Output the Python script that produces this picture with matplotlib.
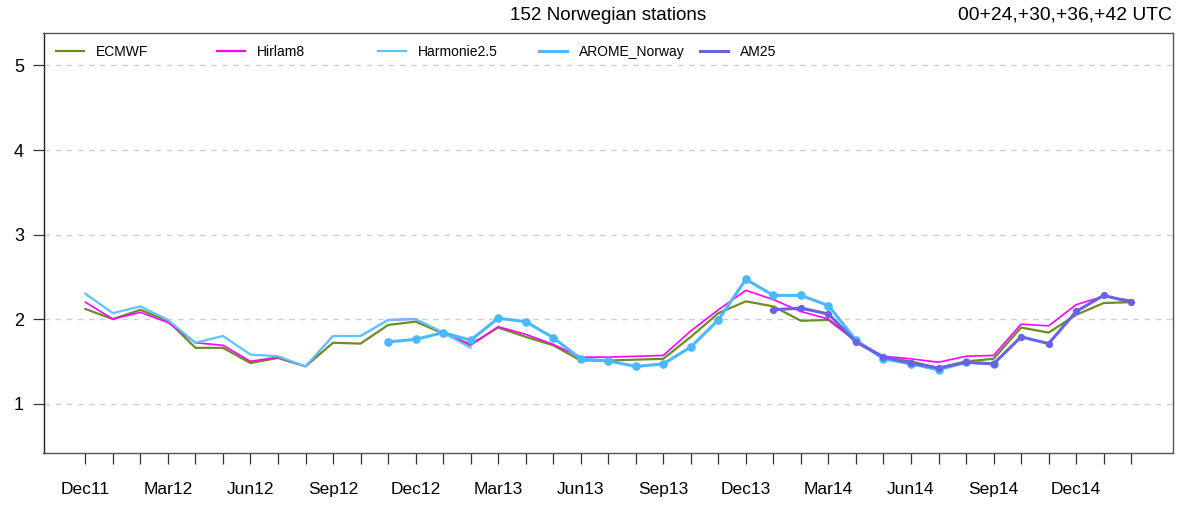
import numpy as np
import matplotlib
matplotlib.use("Agg")
import matplotlib.pyplot as plt
from matplotlib.lines import Line2D

plt.rcParams['font.family'] = ['Liberation Sans', 'DejaVu Sans']

months = ['Dec11', 'Jan12', 'Feb12', 'Mar12', 'Apr12', 'May12', 'Jun12', 'Jul12', 'Aug12',
          'Sep12', 'Oct12', 'Nov12', 'Dec12', 'Jan13', 'Feb13', 'Mar13', 'Apr13', 'May13',
          'Jun13', 'Jul13', 'Aug13', 'Sep13', 'Oct13', 'Nov13', 'Dec13', 'Jan14', 'Feb14',
          'Mar14', 'Apr14', 'May14', 'Jun14', 'Jul14', 'Aug14', 'Sep14', 'Oct14', 'Nov14',
          'Dec14', 'Jan15', 'Feb15']
tick_labels = ['Dec11', 'Mar12', 'Jun12', 'Sep12', 'Dec12', 'Mar13', 'Jun13', 'Sep13',
               'Dec13', 'Mar14', 'Jun14', 'Sep14', 'Dec14']

ecmwf = [2.12, 2.00, 2.11, 1.98, 1.66, 1.66, 1.48, 1.54, 1.44, 1.72, 1.71, 1.93, 1.97,
         1.83, 1.70, 1.90, 1.79, 1.69, 1.51, 1.51, 1.52, 1.53, 1.79, 2.07, 2.21, 2.15,
         1.98, 1.99, 1.74, 1.55, 1.50, 1.42, 1.50, 1.53, 1.90, 1.84, 2.05, 2.19, 2.20]
hirlam8 = [2.20, 2.00, 2.08, 1.96, 1.72, 1.69, 1.50, 1.55, 1.44, 1.80, 1.80, 1.99, 2.00,
           1.84, 1.69, 1.91, 1.82, 1.70, 1.55, 1.55, 1.56, 1.57, 1.86, 2.11, 2.34, 2.23,
           2.09, 2.00, 1.74, 1.56, 1.53, 1.49, 1.56, 1.57, 1.94, 1.92, 2.17, 2.27, 2.22]
harmonie_months = months[0:15]
harmonie = [2.30, 2.07, 2.15, 1.99, 1.72, 1.80, 1.58, 1.56, 1.44, 1.80, 1.80, 1.99, 2.00,
            1.84, 1.66]
arome_months = months[11:34]
arome = [1.73, 1.76, 1.84, 1.75, 2.01, 1.97, 1.78, 1.53, 1.505, 1.44, 1.47, 1.67, 1.99,
         2.47, 2.28, 2.28, 2.16, 1.75, 1.53, 1.47, 1.40, 1.49, 1.47]
am25_months = months[25:39]
am25 = [2.11, 2.13, 2.06, 1.73, 1.55, 1.48, 1.42, 1.49, 1.47, 1.79, 1.71, 2.09, 2.28, 2.20]

c_ec = '#6B8E23'
c_hl = '#FF00FF'
c_ha = '#5CC4FF'
c_ar = '#4DB8FF'
c_am = '#6A62E6'

idx = {m: i for i, m in enumerate(months)}

fig = plt.figure(figsize=(11.87, 5.05), dpi=100)
ax = fig.add_axes([43.5 / 1187, 1 - 453 / 505, (1173 - 43.5) / 1187, (453 - 33) / 505])

for y in [1, 2, 3, 4, 5]:
    ax.axhline(y, color='#CFCFCF', lw=1.0, ls=(0, (4, 4)), zorder=1)

ax.plot([idx[m] for m in months], ecmwf, color=c_ec, lw=1.6, zorder=3)
ax.plot([idx[m] for m in months], hirlam8, color=c_hl, lw=1.2, zorder=3)
ax.plot([idx[m] for m in harmonie_months], harmonie, color=c_ha, lw=1.6, zorder=3)
ax.plot([idx[m] for m in arome_months], arome, color=c_ar, lw=2.2, marker='o', ms=5.2,
        zorder=4)
ax.plot([idx[m] for m in am25_months], am25, color=c_am, lw=2.2, marker='o', ms=4.2,
        zorder=5)

ax.set_xlim(-1.52, 39.52)
ax.set_ylim(0.416, 5.384)
ax.set_yticks([1, 2, 3, 4, 5])
ax.set_yticklabels(['1', '2', '3', '4', '5'], fontsize=13)
ax.set_xticks(range(len(months)))
ax.set_xticklabels([m if m in tick_labels else '' for m in months], fontsize=12.5)
ax.tick_params(axis='x', length=8, width=0.9, color='#333333', pad=13)
ax.tick_params(axis='y', length=8, width=0.9, color='#333333', pad=6)
for s in ax.spines.values():
    s.set_color('#555555')
    s.set_linewidth(1.0)
ax.spines['left'].set_color('#222222')

fig.text((43.5 + 1173) / 2 / 1187, 1 - 15.5 / 505, '152 Norwegian stations', ha='center',
         va='center', fontsize=13.6)
fig.text(1172 / 1187, 1 - 15.5 / 505, '00+24,+30,+36,+42 UTC', ha='right', va='center',
         fontsize=13.9)

entries = [('ECMWF', c_ec, 1.6), ('Hirlam8', c_hl, 1.6), ('Harmonie2.5', c_ha, 1.6),
           ('AROME_Norway', c_ar, 2.2), ('AM25', c_am, 2.2)]
for k, (lab, col, lw) in enumerate(entries):
    h = Line2D([], [], color=col, lw=lw)
    x0 = (56 + 161 * k) / 1187
    leg = fig.legend([h], [lab], loc='center left', bbox_to_anchor=(x0, 1 - 52 / 505),
                     frameon=False, fontsize=10, borderpad=0, borderaxespad=0,
                     handlelength=2.0, handletextpad=0.9)

fig.savefig('out.png', dpi=100)
